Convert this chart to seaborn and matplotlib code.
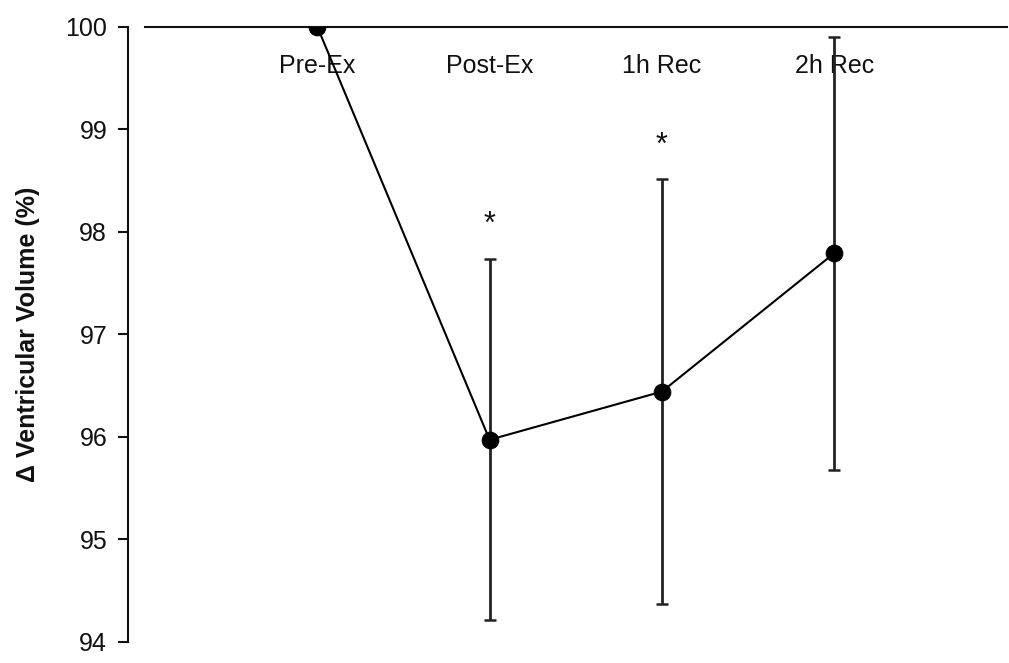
import matplotlib
matplotlib.use("Agg")
import matplotlib.pyplot as plt
import seaborn as sns
import pandas as pd

# values
stages = ["Pre-Ex", "Post-Ex", "1h Rec", "2h Rec"]
positions = [1, 2, 3, 4]
volume = [100.0, 95.97, 96.44, 97.79]
volume_err = [0.0, 1.76, 2.07, 2.11]
star_stages = [2, 3]
star_y = [98.07, 98.84]

sns.set_style("ticks")
plt.rcParams["font.family"] = ["Liberation Sans", "DejaVu Sans"]
plt.rcParams["text.color"] = "#111111"
plt.rcParams["axes.labelcolor"] = "#111111"
plt.rcParams["xtick.color"] = "#111111"
plt.rcParams["ytick.color"] = "#111111"
plt.rcParams["axes.edgecolor"] = "#111111"

df = pd.DataFrame({"pos": positions, "vol": volume, "err": volume_err})

fig = plt.figure(figsize=(10.09, 6.63), dpi=100)
ax = fig.add_axes([145 / 1009, 21.3 / 663, 861.5 / 1009, 615 / 663])

# spines first: moving a spine resets the tick settings
ax.spines["top"].set_visible(False)
ax.spines["right"].set_visible(False)
ax.spines["bottom"].set_position(("data", 100))
ax.spines["bottom"].set_linewidth(1.5)
ax.spines["left"].set_position(("outward", 12.2))
ax.spines["left"].set_linewidth(1.5)

# error bars first, then the line with markers
ax.errorbar(df["pos"], df["vol"], yerr=df["err"], fmt="none",
            ecolor="#222222", elinewidth=2, capsize=4.5, capthick=1.8, zorder=2)
sns.lineplot(data=df, x="pos", y="vol", ax=ax, color="black", linewidth=1.5,
             marker="o", markersize=12, markeredgecolor="black", zorder=3)

for xs, ys in zip(star_stages, star_y):
    ax.text(xs, ys, "*", ha="center", va="center", fontsize=22)

ax.set_xlim(0, 5)
ax.set_ylim(94, 100)
ax.set_xticks(positions)
ax.set_xticklabels(stages)
ax.set_yticks([94, 95, 96, 97, 98, 99, 100])
ax.tick_params(axis="y", labelsize=18, length=7, width=1.5, pad=8)
ax.tick_params(axis="x", labelsize=18, length=0, pad=20)

ax.set_xlabel("")
ax.set_ylabel("\u0394 Ventricular Volume (%)", fontsize=18, fontweight="bold", labelpad=18)

fig.savefig("out.png", dpi=100)
